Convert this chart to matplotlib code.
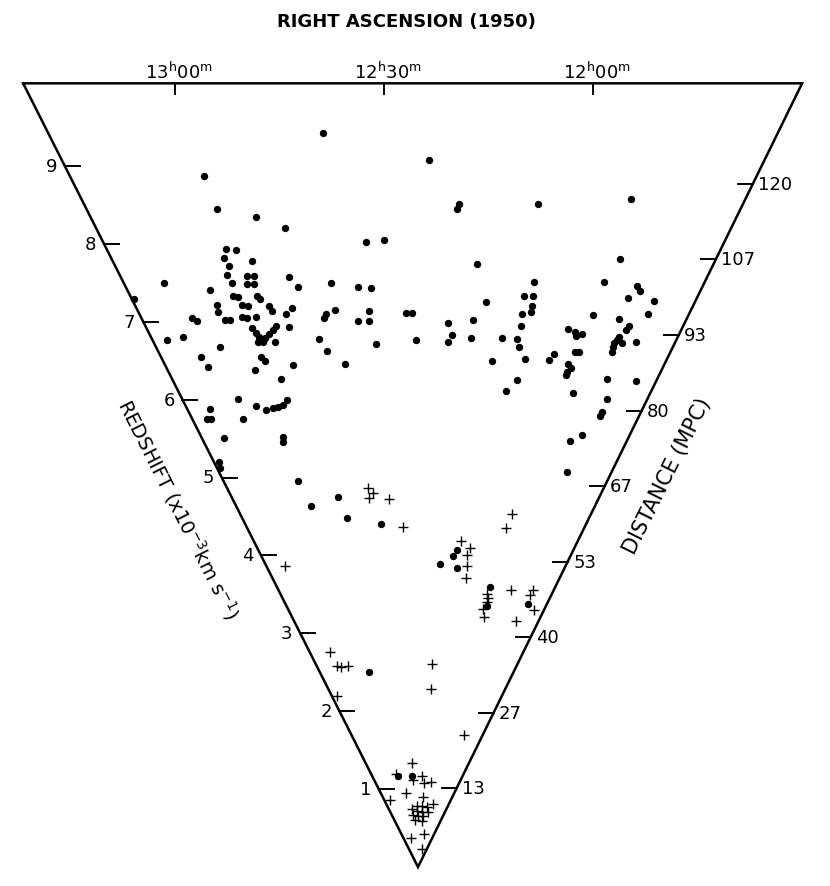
import matplotlib
matplotlib.use("Agg")
import matplotlib.pyplot as plt
import numpy as np

# ---------------- data ----------------
# Right ascension (1950) in minutes after 12h00m, redshift cz in 10^3 km/s
dot_ra = [59.9, 59.4, 53.1, 48.5, 60.0, 58.2, 60.9, 55.9, 60.4, 61.3,
          57.6, 56.3, 58.0, 56.7, 49.7, 60.9, 48.3, 65.6, 61.5, 60.6,
          56.8, 56.3, 65.3, 65.6, 60.3, 59.1, 54.9, 54.6, 50.4, 51.9,
          71.3, 70.6, 64.7, 63.7, 61.0, 60.1, 58.2, 51.9, 74.9, 78.6,
          73.9, 81.3, 59.7, 59.2, 58.8, 59.3, 58.3, 54.6, 55.4, 56.5,
          57.6, 55.7, 46.2, 67.9, 72.9, 72.3, 59.7, 59.1, 61.9, 53.1,
          56.6, 68.3, 64.6, 62.4, 60.6, 59.3, 57.9, 56.6, 76.1, 78.0,
          77.0, 69.0, 75.9, 60.4, 60.8, 80.3, 80.8, 60.0, 58.4, 49.4,
          47.9, 37.2, 53.3, 39.6, 23.4, 18.2, 18.4, 4.8, 34.4, 31.2,
          14.1, -10.7, -12.2, 41.8, 36.7, 34.2, 41.8, 43.8, 44.3, 37.4,
          35.0, 35.2, 27.5, 26.3, 44.9, 34.1, 41.4, 25.5, 18.9, 17.9,
          18.7, 13.8, 13.9, 11.6, 7.3, 8.7, 2.8, 4.3, 2.5, 2.3,
          2.2, 4.0, 3.7, 4.0, 3.3, 1.5, 2.3, 4.3, -10.6, -17.2,
          -18.2, -16.3, -21.7, -10.5, -16.1, -21.6, -18.7, -18.4, -6.2, -7.9,
          -8.3, -9.5, -17.5, -17.3, -16.9, -18.6, -17.0, -17.2, -21.5, -4.7,
          -3.9, -9.1, -10.0, -8.4, -9.3, -8.7, -8.7, -18.4, -25.3, -11.6,
          -20.2, -20.3, -20.2, -17.5, -15.0, -17.3, 17.0, 12.5, 11.3, 10.5,
          -3.8, -4.6, -21.9, 49.8, 32.5]
dot_cz = [8.87, 8.45, 8.34, 8.20, 7.93, 7.92, 7.82, 7.78, 7.72, 7.60,
          7.59, 7.59, 7.48, 7.48, 7.57, 7.50, 7.45, 7.41, 7.33, 7.32,
          7.33, 7.29, 7.21, 7.12, 7.21, 7.20, 7.20, 7.14, 7.18, 7.10,
          7.05, 7.01, 7.02, 7.02, 7.06, 7.05, 7.06, 6.93, 6.80, 6.77,
          7.50, 7.29, 6.92, 6.85, 6.80, 6.74, 6.74, 6.94, 6.89, 6.84,
          6.79, 6.74, 6.78, 6.68, 6.55, 6.42, 6.55, 6.50, 6.38, 6.44,
          6.26, 6.01, 5.92, 5.87, 5.89, 5.90, 5.93, 5.99, 5.88, 5.75,
          5.75, 5.75, 5.51, 5.52, 5.46, 5.20, 5.12, 4.96, 4.63, 4.75,
          4.48, 4.40, 2.50, 9.42, 9.08, 8.51, 8.45, 8.51, 8.02, 8.05,
          7.74, 8.58, 7.80, 7.50, 7.45, 7.43, 7.15, 7.10, 7.05, 7.01,
          7.14, 7.01, 7.11, 7.11, 6.62, 6.71, 6.46, 6.77, 6.98, 6.83,
          6.74, 7.02, 6.79, 7.25, 6.79, 6.50, 7.51, 7.33, 7.33, 7.20,
          7.12, 7.10, 6.94, 6.78, 6.68, 6.52, 6.25, 6.11, 7.51, 7.46,
          7.39, 7.30, 7.27, 7.09, 7.03, 7.10, 6.94, 6.89, 6.91, 6.87,
          6.82, 6.84, 6.80, 6.77, 6.73, 6.73, 6.68, 6.61, 6.74, 6.59,
          6.51, 6.61, 6.61, 6.46, 6.41, 6.35, 6.32, 6.26, 6.24, 6.08,
          6.01, 5.84, 5.79, 5.55, 5.47, 5.07, 3.89, 3.99, 4.07, 3.84,
          3.59, 3.35, 3.38, 1.17, 1.17]

cross_ra = [39.9, 38.6, 40.0, 34.0, 30.1, 74.7, 71.1, 70.4, 68.3, 64.2,
            78.3, 17.4, 16.9, -14.0, -4.8, -4.0, 10.3, 6.8, 7.5, 6.8,
            6.4, -3.3, -4.1, -4.1, -3.2, -4.5, -12.6, -21.5, -21.1, -25.6,
            -19.6, 31.6, 51.7, 20.2, 31.6, 17.1, 7.9, 43.3, 72.0, 17.1,
            -1.6, 27.0, 17.7, 8.3, 36.7, 27.1, 16.9, 4.7, 35.9, 25.1,
            14.1, 32.3, 15.3, 4.7, 52.2, 0.2]
cross_cz = [4.87, 4.80, 4.74, 4.72, 4.36, 3.86, 2.76, 2.58, 2.57, 2.58,
            2.20, 2.61, 2.28, 1.69, 4.53, 4.35, 4.18, 4.10, 4.01, 3.86,
            3.71, 3.50, 3.45, 3.40, 3.31, 3.21, 3.56, 3.56, 3.49, 3.30,
            3.16, 1.34, 1.19, 1.17, 1.12, 1.08, 1.09, 0.95, 0.86, 0.90,
            0.81, 0.78, 0.78, 0.77, 0.74, 0.72, 0.71, 0.71, 0.67, 0.65,
            0.65, 0.60, 0.59, 0.42, 0.37, 0.23]

redshift_ticks = [1, 2, 3, 4, 5, 6, 7, 8, 9]
distance_labels = ["13", "27", "40", "53", "67", "80", "93", "107", "120"]
ra_ticks = [60, 30, 0]
ra_labels = [r"13$^{\mathrm{h}}$00$^{\mathrm{m}}$",
             r"12$^{\mathrm{h}}$30$^{\mathrm{m}}$",
             r"12$^{\mathrm{h}}$00$^{\mathrm{m}}$"]

# ---------------- geometry of the wedge ----------------
RA_UP = 25.13      # RA (min after 12h) pointing straight up
K = 0.008907       # slope change per minute of RA
RA_LEFT, RA_RIGHT = 81.7, -29.9
Y_TOP = 10.06
PX = 77.9          # pixels per unit


def slope(ra):
    return (RA_UP - np.asarray(ra, dtype=float)) * K


fig = plt.figure(figsize=(8.3, 8.87), dpi=100)
ax = fig.add_axes([0, 0, 1, 1])
ax.set_xlim(-418 / PX, 412 / PX)
ax.set_ylim(-19 / PX, 868 / PX)
ax.axis("off")

sl, sr = slope(RA_LEFT), slope(RA_RIGHT)
ax.plot([sl * Y_TOP, 0, sr * Y_TOP, sl * Y_TOP], [Y_TOP, 0, Y_TOP, Y_TOP],
        color="black", lw=1.8, solid_joinstyle="miter", zorder=2)

fs = 13
# left (redshift) ticks
for k in redshift_ticks:
    xe = sl * k
    ax.plot([xe, xe + 0.19], [k, k], color="black", lw=1.4)
    ax.text(xe - 0.1, k, str(k), ha="right", va="center", fontsize=fs)

# right (distance) ticks
for i, lab in enumerate(distance_labels):
    y = 0.97 * (i + 1) + 0.04
    xe = sr * y
    ax.plot([xe - 0.19, xe], [y, y], color="black", lw=1.4)
    ax.text(xe + 0.07, y, lab, ha="left", va="center", fontsize=fs)

# top RA ticks
for m, lab in zip(ra_ticks, ra_labels):
    x = slope(m) * Y_TOP
    ax.plot([x, x], [Y_TOP, Y_TOP - 0.14], color="black", lw=1.4)
    ax.text(x + 0.05, 10.13, lab, ha="center", va="baseline", fontsize=fs)

ax.text(-0.15, 10.86, "RIGHT ASCENSION (1950)", ha="center", va="center",
        fontsize=13, fontweight="bold")

ax.text(-3.08, 4.60, r"REDSHIFT (x10$^{-3}$km s$^{-1}$)", ha="center",
        va="center", rotation=-63.3, rotation_mode="anchor", fontsize=14)
ax.text(3.20, 5.03, "DISTANCE (MPC)", ha="center", va="center",
        rotation=63.5, rotation_mode="anchor", fontsize=15)

# points
dx = dot_cz * slope(dot_ra)
ax.plot(dx, dot_cz, "o", color="black", ms=5.3, mew=0, zorder=3)
cx = cross_cz * slope(cross_ra)
ax.plot(cx, cross_cz, "+", color="black", ms=7, mew=1.0, zorder=3)

fig.savefig("out.png", dpi=100, facecolor="white")
